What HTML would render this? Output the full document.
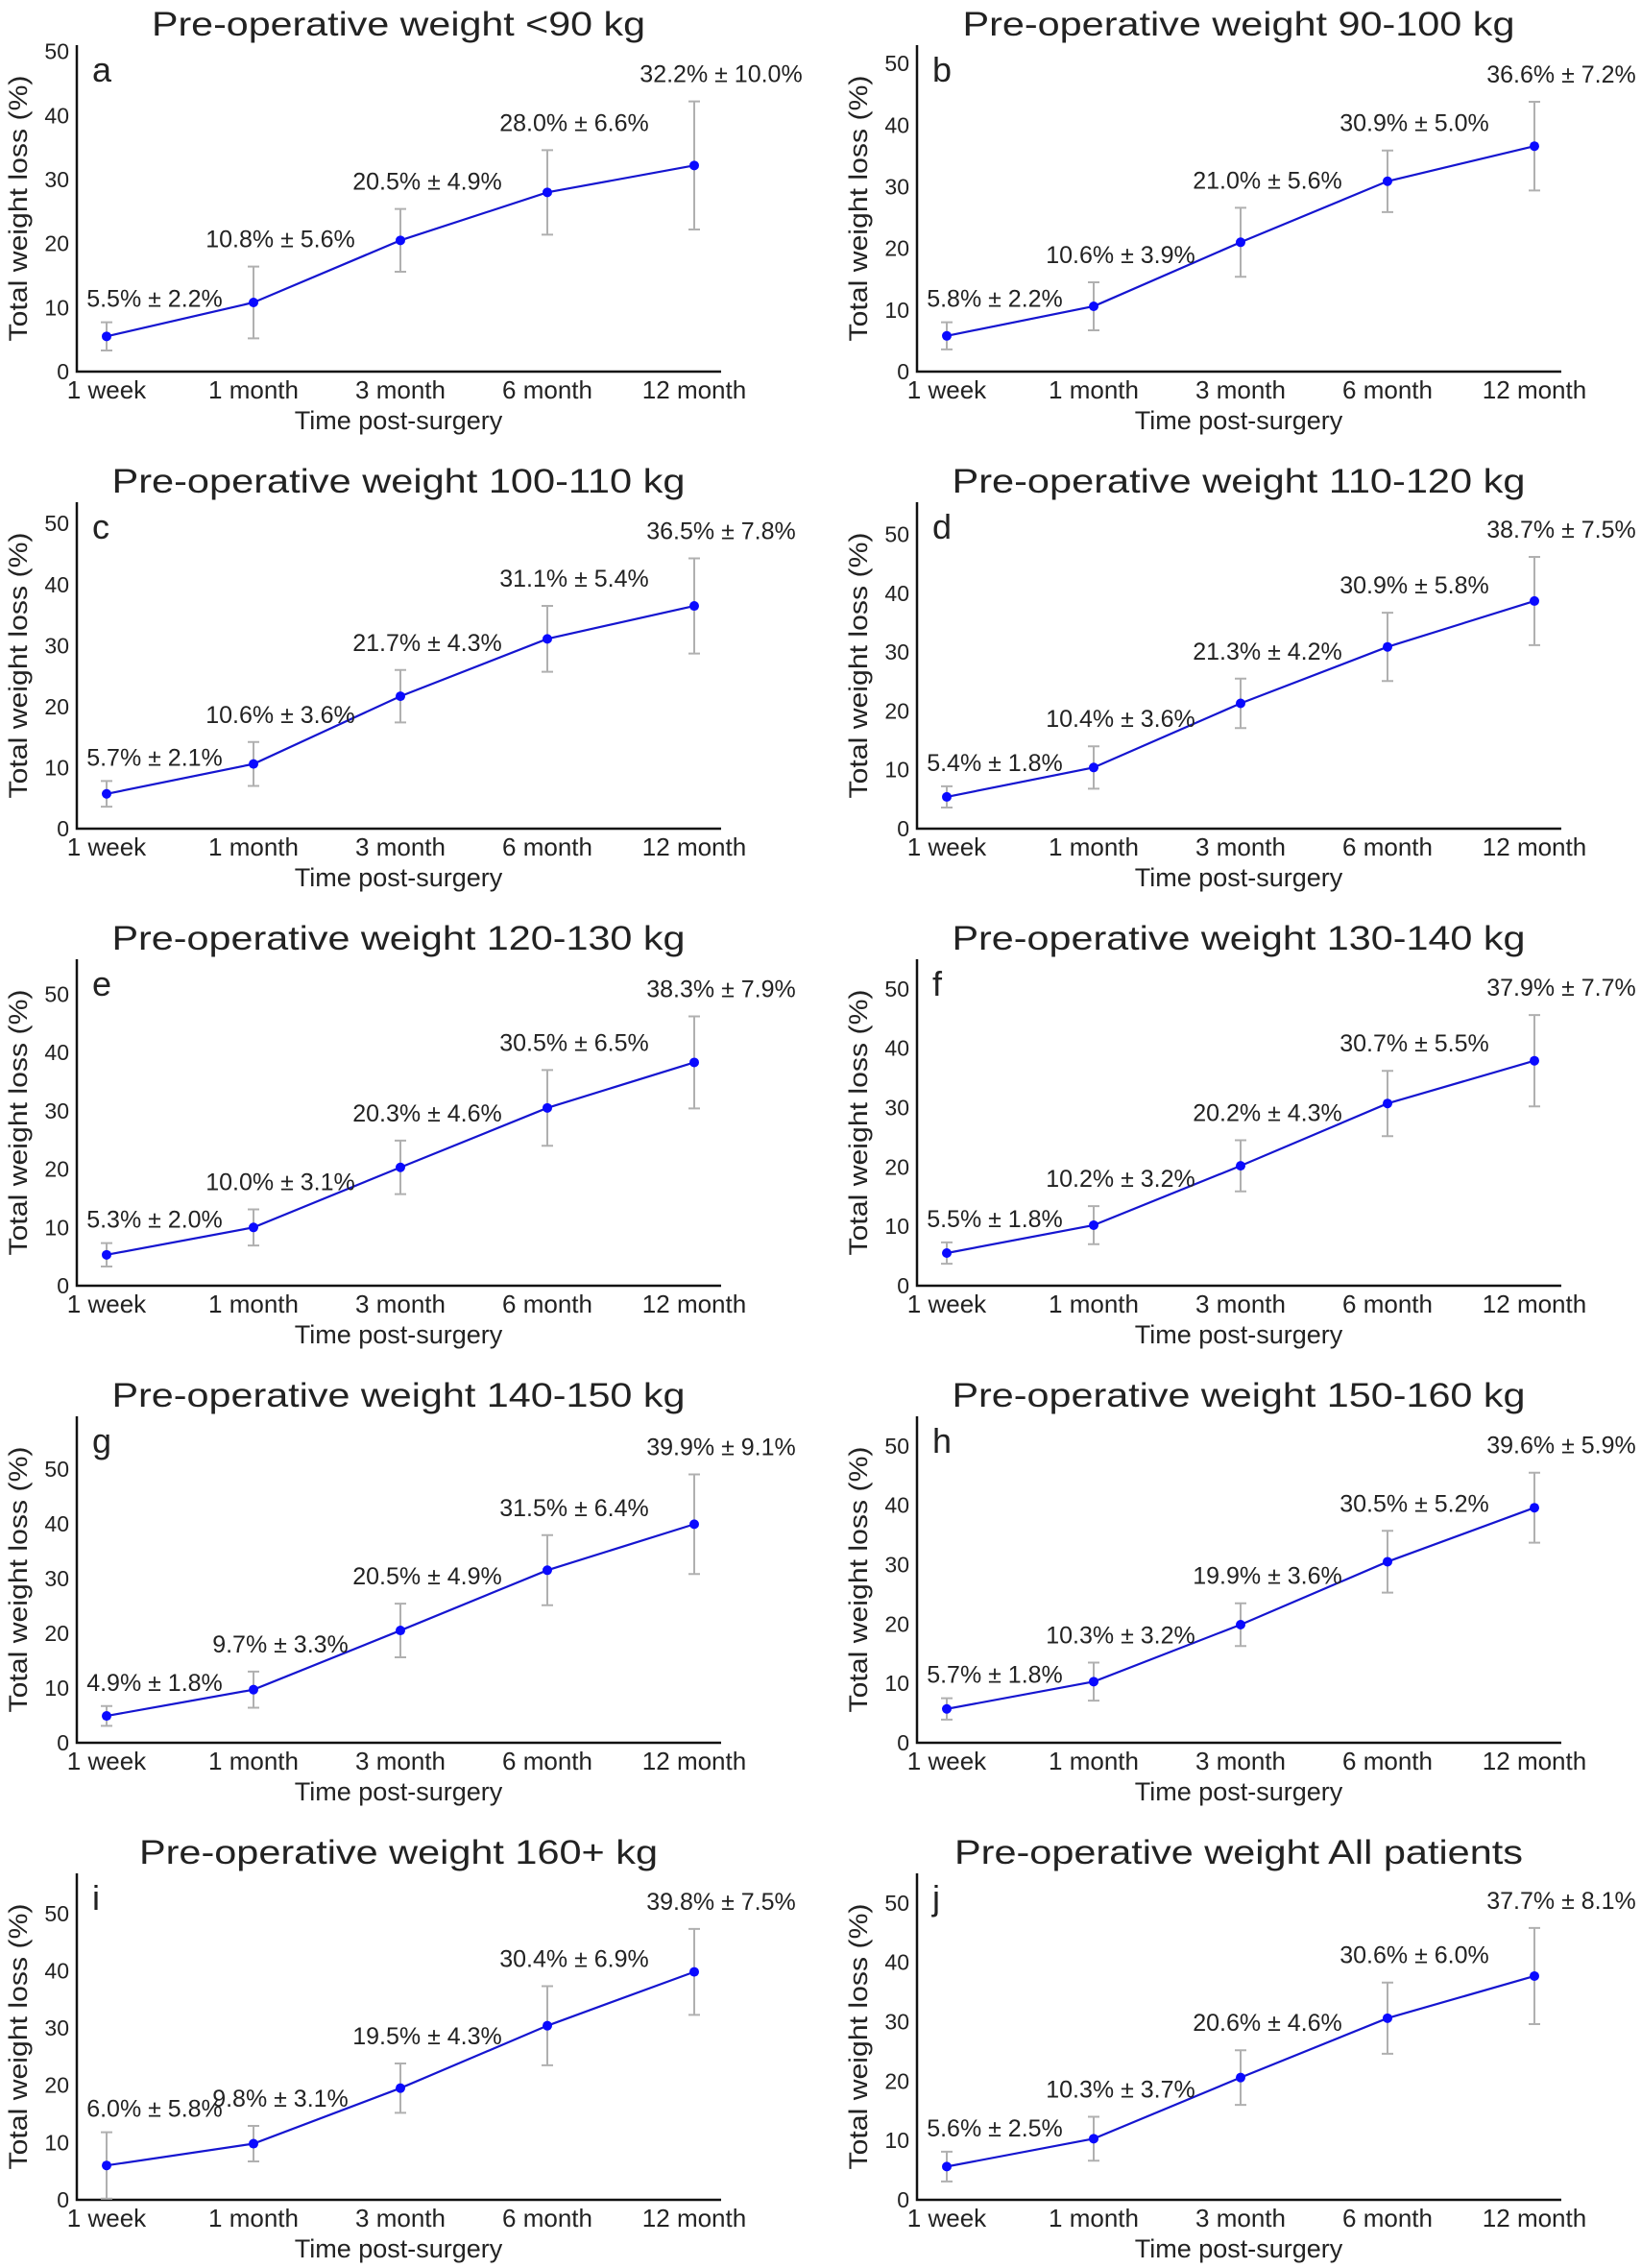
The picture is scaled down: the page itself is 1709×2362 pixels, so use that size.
<!DOCTYPE html>
<html><head><meta charset="utf-8"><style>html,body{margin:0;padding:0;background:#fff}svg{display:block}text{font-family:"Liberation Sans",Arial,sans-serif;fill:#222}</style></head>
<body>
<svg id="s" xmlns="http://www.w3.org/2000/svg" width="1709" height="2362" viewBox="0 0 1709 2362"></svg>
<script>
const P=[
["<90 kg","a",51,[[5.5,2.2],[10.8,5.6],[20.5,4.9],[28.0,6.6],[32.2,10.0]],514],
["90-100 kg","b",53,[[5.8,2.2],[10.6,3.9],[21.0,5.6],[30.9,5.0],[36.6,7.2]],575],
["100-110 kg","c",53.5,[[5.7,2.1],[10.6,3.6],[21.7,4.3],[31.1,5.4],[36.5,7.8]],597],
["110-120 kg","d",55.5,[[5.4,1.8],[10.4,3.6],[21.3,4.2],[30.9,5.8],[38.7,7.5]],597],
["120-130 kg","e",56,[[5.3,2.0],[10.0,3.1],[20.3,4.6],[30.5,6.5],[38.3,7.9]],597],
["130-140 kg","f",55,[[5.5,1.8],[10.2,3.2],[20.2,4.3],[30.7,5.5],[37.9,7.7]],597],
["140-150 kg","g",59.6,[[4.9,1.8],[9.7,3.3],[20.5,4.9],[31.5,6.4],[39.9,9.1]],597],
["150-160 kg","h",55,[[5.7,1.8],[10.3,3.2],[19.9,3.6],[30.5,5.2],[39.6,5.9]],597],
["160+ kg","i",57,[[6.0,5.8],[9.8,3.1],[19.5,4.3],[30.4,6.9],[39.8,7.5]],540],
["All patients","j",55,[[5.6,2.5],[10.3,3.7],[20.6,4.6],[30.6,6.0],[37.7,8.1]],592]];
const rows=[387,863,1339,1815,2291],cols=[80,955];
const labs=["1 week","1 month","3 month","6 month","12 month"];
let h="";
P.forEach((p,idx)=>{
 const ax=cols[idx%2],ay=rows[Math.floor(idx/2)],k=340/p[2];
 const Y=v=>ay-v*k,X=i=>ax+31+153*i;
 h+=`<text x="${ax+335}" y="${ay-350}" font-size="35" text-anchor="middle" textLength="${p[4]}" lengthAdjust="spacingAndGlyphs">Pre-operative weight ${p[0].replace('<','&lt;')}</text>`;
 h+=`<path d="M${ax} ${ay-340}V${ay}H${ax+671}" fill="none" stroke="#111" stroke-width="2.5"/>`;
 for(let t=0;t<=50;t+=10){ if(t<=p[2]) h+=`<text x="${ax-8}" y="${Y(t)+8}" font-size="23" text-anchor="end">${t}</text>`;}
 h+=`<text x="${ax+16}" y="${ay-302}" font-size="36">${p[1]}</text>`;
 h+=`<text transform="translate(${ax-52},${ay-170}) rotate(-90)" font-size="27" text-anchor="middle" textLength="277" lengthAdjust="spacingAndGlyphs">Total weight loss (%)</text>`;
 labs.forEach((l,i)=>{h+=`<text x="${X(i)}" y="${ay+28}" font-size="26" text-anchor="middle">${l}</text>`;});
 h+=`<text x="${ax+335}" y="${ay+60}" font-size="27" text-anchor="middle">Time post-surgery</text>`;
 p[3].forEach((d,i)=>{const x=X(i),t=Y(d[0]+d[1]),b=Y(Math.max(0,d[0]-d[1]));
  h+=`<path d="M${x} ${t}V${b}M${x-6} ${t}H${x+6}M${x-6} ${b}H${x+6}" stroke="#b0b0b0" stroke-width="2" fill="none"/>`;});
 h+=`<polyline points="${p[3].map((d,i)=>X(i)+","+Y(d[0])).join(" ")}" fill="none" stroke="#1515d0" stroke-width="2.2"/>`;
 p[3].forEach((d,i)=>{h+=`<circle cx="${X(i)}" cy="${Y(d[0])}" r="5" fill="#0a0aff"/>`;
  const tx=X(i)+(i==0?50:28),ty=Y(d[0]+d[1])-(i==0?16:20);
  h+=`<text x="${tx}" y="${ty}" font-size="25" text-anchor="middle">${d[0].toFixed(1)}% ± ${d[1].toFixed(1)}%</text>`;});
});
document.getElementById("s").innerHTML=h;
</script>
</body></html>
